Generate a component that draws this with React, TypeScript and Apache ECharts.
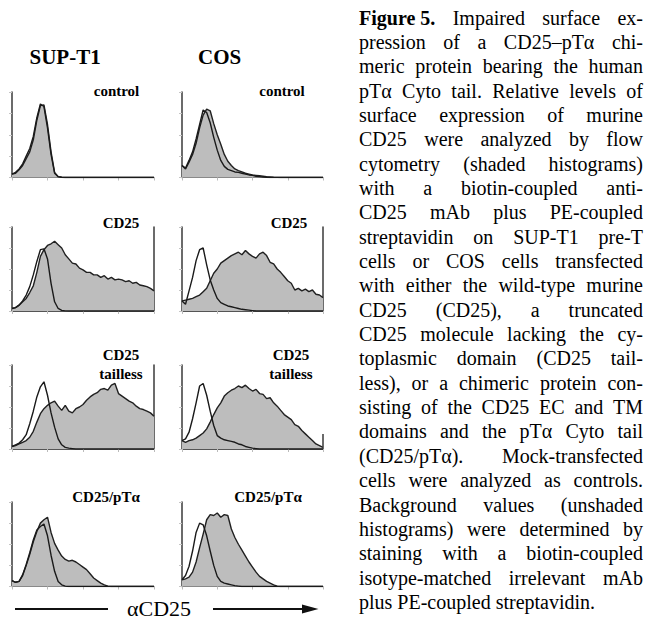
import React, { useEffect, useRef } from "react";
import * as echarts from "echarts";

// x axis: fluorescence intensity in log decades (0..4), one bin every 0.1 decade
const DECADE_TICKS = [0, 1, 2, 3, 4];
const BIN_WIDTH = 0.1;

const COLUMN_TITLES = ["SUP-T1", "COS"];

// ---- SUP-T1 ----
const supControlStained = [4, 5, 9, 14, 22, 30, 44, 67, 84, 85, 62, 30, 6, 1, 0.3,
  0, 0, 0, 0, 0, 0, 0, 0, 0, 0, 0, 0, 0, 0, 0, 0, 0, 0, 0, 0, 0, 0, 0, 0, 0, 0];
const supControlBackground = [4, 6, 10, 16, 25, 34, 48, 70, 86, 83, 58, 27, 5, 1, 0.3,
  0, 0, 0, 0, 0, 0, 0, 0, 0, 0, 0, 0, 0, 0, 0, 0, 0, 0, 0, 0, 0, 0, 0, 0, 0, 0];

const supCd25Stained = [3, 4, 7, 11, 15, 22, 30, 46, 65, 73, 78, 80, 83, 79, 75, 67, 62, 57, 56, 51,
  49, 46, 46, 43, 43, 40, 42, 38, 40, 37, 38, 37, 35, 36, 33, 34, 31, 30, 29, 27, 24];
const supCd25Background = [3, 4, 7, 12, 19, 29, 43, 59, 73, 74, 62, 33, 11, 3, 0.8, 0.2,
  0, 0, 0, 0, 0, 0, 0, 0, 0, 0, 0, 0, 0, 0, 0, 0, 0, 0, 0, 0, 0, 0, 0, 0, 0];

const supTaillessStained = [3, 4, 6, 8, 10, 14, 21, 32, 42, 48, 52, 55, 57, 51, 46, 52, 45, 43, 48, 50,
  53, 58, 62, 65, 67, 71, 72, 70, 76, 78, 66, 63, 60, 57, 55, 51, 48, 47, 45, 43, 39];
const supTaillessBackground = [3, 5, 7, 11, 17, 30, 45, 62, 74, 80, 64, 43, 26, 12, 5, 2, 1, 0.5,
  0, 0, 0, 0, 0, 0, 0, 0, 0, 0, 0, 0, 0, 0, 0, 0, 0, 0, 0, 0, 0, 0, 0];

const supPtaStained = [7, 5, 6, 13, 25, 38, 53, 65, 75, 79, 82, 64, 51, 43, 36, 32, 30, 31, 29, 26,
  23, 20, 15, 10, 7, 4, 2, 0.5, 0, 0, 0, 0, 0, 0, 0, 0, 0, 0, 0, 0, 0];
const supPtaBackground = [7, 5, 6, 14, 26, 40, 55, 67, 71, 74, 60, 37, 18, 6, 2, 0.5,
  0, 0, 0, 0, 0, 0, 0, 0, 0, 0, 0, 0, 0, 0, 0, 0, 0, 0, 0, 0, 0, 0, 0, 0, 0];

// ---- COS ----
const cosControlStained = [14, 10, 18, 27, 40, 58, 73, 80, 78, 63, 50, 39, 27, 19, 14, 10, 8, 6.5, 5, 4,
  3, 2.5, 2, 1.5, 1, 0.7, 0.4, 0.2, 0, 0, 0, 0, 0, 0, 0, 0, 0, 0, 0, 0, 0];
const cosControlBackground = [14, 11, 20, 30, 45, 62, 79, 76, 64, 47, 32, 20, 13, 9.5, 8, 6.5, 6, 5, 4, 3,
  2.5, 1.5, 1, 0.5, 0.3, 0, 0, 0, 0, 0, 0, 0, 0, 0, 0, 0, 0, 0, 0, 0, 0];

const cosCd25Stained = [12, 13, 14, 15, 17, 19, 23, 27, 36, 45, 50, 57, 60, 63, 66, 68, 70, 67, 72, 68,
  65, 63, 68, 70, 66, 58, 56, 50, 46, 41, 36, 33, 25, 27, 24, 26, 23, 25, 20, 19, 16];
const cosCd25Background = [12, 8, 24, 40, 60, 73, 75, 55, 37, 25, 15, 10, 8, 6, 5, 4, 3, 2, 1.5, 1,
  0.5, 0, 0, 0, 0, 0, 0, 0, 0, 0, 0, 0, 0, 0, 0, 0, 0, 0, 0, 0, 0];

const cosTaillessStained = [10, 8, 10, 11, 13, 16, 19, 24, 32, 41, 49, 55, 63, 67, 70, 72, 75, 73, 76, 72,
  69, 71, 66, 65, 60, 61, 55, 51, 46, 41, 38, 35, 29, 27, 22, 18, 14, 10, 6, 4, 2];
const cosTaillessBackground = [10, 12, 20, 36, 55, 75, 78, 64, 45, 28, 16, 13, 11, 10, 9, 8, 6, 5, 3, 2,
  1, 0.5, 0, 0, 0, 0, 0, 0, 0, 0, 0, 0, 0, 0, 0, 0, 0, 0, 0, 0, 0];

const cosPtaStained = [8, 9, 11, 17, 29, 46, 62, 79, 85, 84, 87, 82, 85, 84, 68, 58, 50, 43, 36, 29,
  23, 17, 12, 9, 6, 4, 2, 0.5, 0, 0, 0, 0, 0, 0, 0, 0, 0, 0, 0, 0, 0];
const cosPtaBackground = [8, 13, 24, 42, 64, 75, 73, 60, 42, 25, 12, 6, 4, 3, 2, 1, 0.5,
  0, 0, 0, 0, 0, 0, 0, 0, 0, 0, 0, 0, 0, 0, 0, 0, 0, 0, 0, 0, 0, 0, 0, 0];

const ROW_LABELS = [["control"], ["CD25"], ["CD25", "tailless"], ["CD25/pT\u03b1"]];
const AXIS_TITLE = "\u03b1CD25";

const CAPTION_LEAD = "Figure 5.";
const CAPTION_LINES = [
  "Impaired surface ex-",
  "pression of a CD25\u2013pT\u03b1 chi-",
  "meric protein bearing the human",
  "pT\u03b1 Cyto tail. Relative levels of",
  "surface expression of murine",
  "CD25 were analyzed by flow",
  "cytometry (shaded histograms)",
  "with a biotin-coupled anti-",
  "CD25 mAb plus PE-coupled",
  "streptavidin on SUP-T1 pre-T",
  "cells or COS cells transfected",
  "with either the wild-type murine",
  "CD25 (CD25), a truncated",
  "CD25 molecule lacking the cy-",
  "toplasmic domain (CD25 tail-",
  "less), or a chimeric protein con-",
  "sisting of the CD25 EC and TM",
  "domains and the pT\u03b1 Cyto tail",
  "(CD25/pT\u03b1). Mock-transfected",
  "cells were analyzed as controls.",
  "Background values (unshaded",
  "histograms) were determined by",
  "staining with a biotin-coupled",
  "isotype-matched irrelevant mAb",
  "plus PE-coupled streptavidin.",
];

const SERIF = "Liberation Serif";

type Panel = {
  stained: number[];
  background: number[];
  row: number;
  col: number;
  rightAxis: "none" | "full" | "short";
};

const PANELS: Panel[] = [
  { stained: supControlStained, background: supControlBackground, row: 0, col: 0, rightAxis: "none" },
  { stained: cosControlStained, background: cosControlBackground, row: 0, col: 1, rightAxis: "none" },
  { stained: supCd25Stained, background: supCd25Background, row: 1, col: 0, rightAxis: "full" },
  { stained: cosCd25Stained, background: cosCd25Background, row: 1, col: 1, rightAxis: "full" },
  { stained: supTaillessStained, background: supTaillessBackground, row: 2, col: 0, rightAxis: "full" },
  { stained: cosTaillessStained, background: cosTaillessBackground, row: 2, col: 1, rightAxis: "short" },
  { stained: supPtaStained, background: supPtaBackground, row: 3, col: 0, rightAxis: "none" },
  { stained: cosPtaStained, background: cosPtaBackground, row: 3, col: 1, rightAxis: "none" },
];

const COLS = [
  { left: 12, width: 142 },
  { left: 182, width: 141 },
];
const ROWS = [
  { top: 92, height: 85.5 },
  { top: 227, height: 84 },
  { top: 365, height: 84 },
  { top: 502, height: 84.5 },
];
// centre positions of the in-panel labels [row][col]
const LABEL_X = [
  [116.5, 282],
  [121, 289],
  [121, 291],
  [106, 268],
];
const LABEL_Y = [[91], [223], [355, 373.5], [497]];

function textStyle(text: string, size: number, weight: string, align: string) {
  return {
    text,
    fontFamily: SERIF,
    fontSize: size,
    fontWeight: weight,
    fill: "#000",
    textAlign: align,
    textVerticalAlign: "middle",
  };
}

function buildCaption(): any[] {
  const els: any[] = [];
  const canvas = document.createElement("canvas");
  const ctx = canvas.getContext("2d") as CanvasRenderingContext2D;
  const size = 20;
  const x0 = 359;
  const x1 = 643;
  const y0 = 17.5;
  const dy = 24.35;
  const measure = (t: string, bold: boolean) => {
    ctx.font = `${bold ? "bold " : ""}${size}px "${SERIF}"`;
    return ctx.measureText(t).width;
  };
  CAPTION_LINES.forEach((line, i) => {
    const tokens: { t: string; bold: boolean }[] = [];
    if (i === 0) tokens.push({ t: CAPTION_LEAD, bold: true });
    line.split(" ").forEach((w) => tokens.push({ t: w, bold: false }));
    const widths = tokens.map((tk) => measure(tk.t, tk.bold));
    const total = widths.reduce((a, b) => a + b, 0);
    const last = i === CAPTION_LINES.length - 1;
    const spaceW = measure(" ", false);
    const gap = last || tokens.length < 2 ? spaceW : (x1 - x0 - total) / (tokens.length - 1);
    let x = x0;
    const y = y0 + i * dy;
    tokens.forEach((tk, j) => {
      els.push({
        type: "text",
        x,
        y,
        style: textStyle(tk.t, size, tk.bold ? "bold" : "normal", "left"),
      });
      x += widths[j] + gap;
    });
  });
  return els;
}

export default function App() {
  const ref = useRef<HTMLDivElement>(null);
  useEffect(() => {
    if (!ref.current) return;
    const chart = echarts.init(ref.current, undefined, { renderer: "svg" });

    const grid: any[] = [];
    const xAxis: any[] = [];
    const yAxis: any[] = [];
    const series: any[] = [];

    PANELS.forEach((p, i) => {
      const c = COLS[p.col];
      const r = ROWS[p.row];
      grid.push({ left: c.left, top: r.top, width: c.width, height: r.height, containLabel: false });
      xAxis.push({
        type: "value",
        gridIndex: i,
        min: DECADE_TICKS[0],
        max: DECADE_TICKS[DECADE_TICKS.length - 1],
        interval: 1,
        axisLine: { show: true, onZero: false, lineStyle: { color: "#555", width: 1 } },
        axisTick: { show: true, length: 3, lineStyle: { color: "#bbb", width: 1 } },
        axisLabel: { show: false },
        splitLine: { show: false },
      });
      const yIndex = yAxis.length;
      yAxis.push({
        type: "value",
        gridIndex: i,
        min: 0,
        max: 100,
        interval: 25,
        axisLine: { show: true, lineStyle: { color: "#3a3a3a", width: 1.5 } },
        axisTick: { show: true, length: 3, lineStyle: { color: "#c4c4c4", width: 1 } },
        axisLabel: { show: false },
        splitLine: { show: false },
      });
      if (p.rightAxis === "full") {
        yAxis.push({
          type: "value",
          gridIndex: i,
          position: "right",
          min: 0,
          max: 100,
          axisLine: { show: true, lineStyle: { color: "#3a3a3a", width: 1.5 } },
          axisTick: { show: false },
          axisLabel: { show: false },
          splitLine: { show: false },
        });
      }
      const toXY = (arr: number[]) => arr.map((v, k) => [k * BIN_WIDTH, v]);
      const stainedSeries: any = {
        type: "line",
        xAxisIndex: i,
        yAxisIndex: yIndex,
        data: toXY(p.stained),
        symbol: "none",
        smooth: false,
        lineStyle: { color: "#202020", width: 1.4 },
        areaStyle: { color: "#bdbdbd", opacity: 1 },
        z: 2,
      };
      if (p.rightAxis === "short") {
        stainedSeries.markLine = {
          silent: true,
          symbol: "none",
          label: { show: false },
          lineStyle: { color: "#3a3a3a", width: 1.5, type: "solid" },
          data: [[{ coord: [4, 0] }, { coord: [4, 18] }]],
        };
      }
      series.push(stainedSeries);
      series.push({
        type: "line",
        xAxisIndex: i,
        yAxisIndex: yIndex,
        data: toXY(p.background),
        symbol: "none",
        smooth: false,
        lineStyle: { color: "#1a1a1a", width: 1.4 },
        z: 3,
      });
    });

    const graphic: any[] = [];
    // column titles
    graphic.push({ type: "text", x: 29.5, y: 57, style: textStyle(COLUMN_TITLES[0], 21, "bold", "left") });
    graphic.push({ type: "text", x: 198, y: 57, style: textStyle(COLUMN_TITLES[1], 21, "bold", "left") });
    // panel labels
    ROW_LABELS.forEach((lines, r) => {
      [0, 1].forEach((c) => {
        lines.forEach((t, li) => {
          graphic.push({
            type: "text",
            x: LABEL_X[r][c],
            y: LABEL_Y[r][li],
            style: textStyle(t, 15, "bold", "center"),
          });
        });
      });
    });
    // axis title with arrow
    graphic.push({ type: "text", x: 159, y: 608, style: textStyle(AXIS_TITLE, 22, "normal", "center") });
    graphic.push({ type: "line", shape: { x1: 15, y1: 609, x2: 108, y2: 609 }, style: { stroke: "#111", lineWidth: 1.8 } });
    graphic.push({ type: "line", shape: { x1: 213, y1: 609, x2: 306, y2: 609 }, style: { stroke: "#111", lineWidth: 1.8 } });
    graphic.push({
      type: "polygon",
      shape: { points: [[302, 604.5], [318.5, 609], [302, 613.5]] },
      style: { fill: "#111" },
    });
    buildCaption().forEach((e) => graphic.push(e));

    chart.setOption({
      animation: false,
      backgroundColor: "#ffffff",
      grid,
      xAxis,
      yAxis,
      series,
      graphic: { elements: graphic },
    });
    return () => chart.dispose();
  }, []);

  return (
    <div
      ref={ref}
      style={{ position: "absolute", left: 0, top: 0, width: 649, height: 622, background: "#fff" }}
    />
  );
}
